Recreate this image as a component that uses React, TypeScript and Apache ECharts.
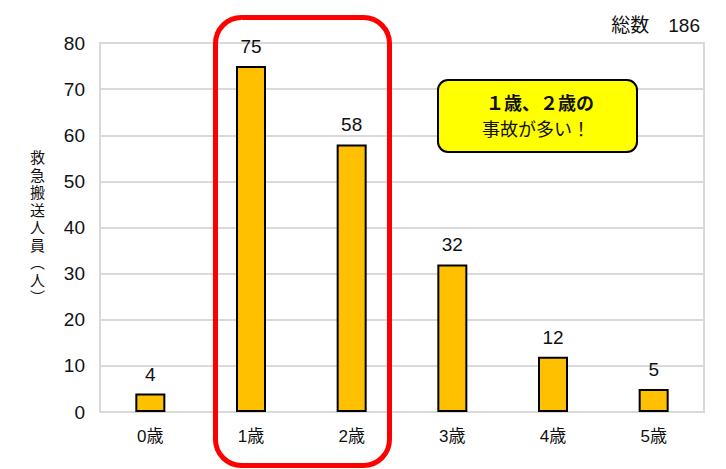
import React, { useEffect, useRef } from 'react';
import * as echarts from 'echarts';

const categories = ['0歳', '1歳', '2歳', '3歳', '4歳', '5歳'];
const counts = [4, 75, 58, 32, 12, 5];
const yTicks = { min: 0, max: 80, interval: 10 };
const totalLabel = '総数　186';
const yAxisTitle = ['救', '急', '搬', '送', '人', '員', '︵', '人', '︶'];
const calloutLines = ['１歳、２歳の', '事故が多い！'];

const FONT = "'Liberation Sans', 'Noto Sans CJK JP', sans-serif";
const CJK = "'Noto Sans CJK JP', sans-serif";

export default function App() {
  const chartRef = useRef<HTMLDivElement | null>(null);

  useEffect(() => {
    if (!chartRef.current) return;
    const chart = echarts.init(chartRef.current, undefined, { renderer: 'svg' });
    chart.setOption({
      animation: false,
      backgroundColor: '#ffffff',
      textStyle: { fontFamily: FONT },
      grid: {
        left: 100,
        right: 22,
        top: 43,
        bottom: 57,
        show: true,
        borderColor: '#d9d9d9',
        borderWidth: 2,
      },
      xAxis: {
        type: 'category',
        data: categories,
        axisLine: { lineStyle: { color: '#d9d9d9', width: 2 } },
        axisTick: { show: false },
        axisLabel: { color: '#111', fontSize: 17, margin: 16, fontFamily: FONT },
      },
      yAxis: {
        type: 'value',
        min: yTicks.min,
        max: yTicks.max,
        interval: yTicks.interval,
        axisLine: { show: false },
        axisTick: { show: false },
        splitLine: { lineStyle: { color: '#d9d9d9', width: 2 } },
        axisLabel: { color: '#111', fontSize: 19, margin: 15, fontFamily: FONT },
      },
      series: [
        {
          type: 'bar',
          data: counts,
          barWidth: 30,
          itemStyle: { color: '#FFC000', borderColor: '#000', borderWidth: 2 },
          label: {
            show: true,
            position: 'top',
            distance: 10,
            color: '#111',
            fontSize: 19,
            fontFamily: FONT,
          },
        },
      ],
      graphic: [
        {
          type: 'text',
          right: 26,
          top: 16,
          style: { text: totalLabel, fill: '#111', font: `19px ${FONT}` },
        },
        {
          type: 'text',
          left: 30,
          top: 149,
          style: {
            text: yAxisTitle.join('\n'),
            font: `15px ${FONT}`,
            fill: '#111',
            lineHeight: 17.5,
            align: 'center',
          },
        },
        {
          type: 'rect',
          shape: { x: 438, y: 80, width: 199, height: 72, r: 10 },
          style: { fill: '#FFFF00', stroke: '#000', lineWidth: 2 },
          z: 10,
        },
        {
          type: 'text',
          x: 540,
          y: 102,
          z: 11,
          style: {
            text: calloutLines[0],
            font: `bold 18px ${CJK}`,
            fill: '#111',
            align: 'center',
            verticalAlign: 'middle',
          },
        },
        {
          type: 'text',
          x: 536,
          y: 128,
          z: 11,
          style: {
            text: calloutLines[1],
            font: `18px ${CJK}`,
            fill: '#111',
            align: 'center',
            verticalAlign: 'middle',
          },
        },
        {
          type: 'rect',
          shape: { x: 215.5, y: 17.5, width: 174, height: 448, r: 26 },
          style: { fill: 'none', stroke: '#FF0000', lineWidth: 5 },
          z: 12,
        },
      ],
    });
    return () => {
      chart.dispose();
    };
  }, []);

  return (
    <div
      ref={chartRef}
      style={{ position: 'fixed', left: 0, top: 0, width: 726, height: 469 }}
    />
  );
}
